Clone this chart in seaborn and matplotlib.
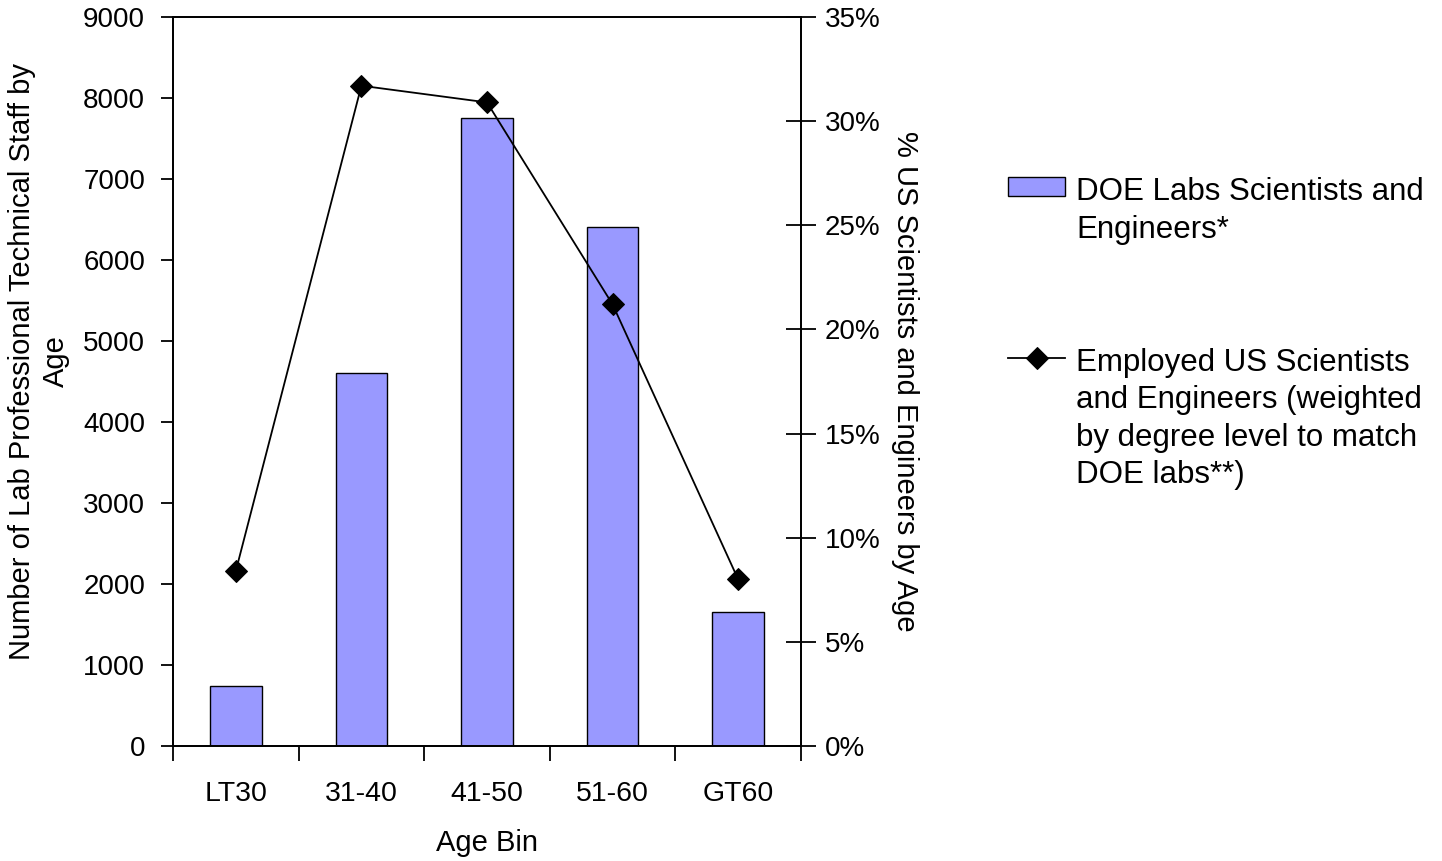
import numpy as np
import pandas as pd
import matplotlib
matplotlib.use("Agg")
import matplotlib.pyplot as plt
import seaborn as sns
from matplotlib.ticker import FixedLocator, PercentFormatter

# Data
age_bins = ["LT30", "31-40", "41-50", "51-60", "GT60"]
doe_staff = [740, 4610, 7750, 6410, 1650]
us_share = [0.084, 0.317, 0.309, 0.212, 0.080]

df = pd.DataFrame({"Age Bin": age_bins, "Staff": doe_staff, "Share": us_share})

plt.rcParams["font.family"] = ["Liberation Sans", "DejaVu Sans"]

fig = plt.figure(figsize=(14.42, 8.61), dpi=100)
ax = fig.add_axes([173 / 1442, 1 - 746 / 861, 628 / 1442, 729 / 861])

sns.barplot(data=df, x="Age Bin", y="Staff", color="#9999FF", saturation=1,
            edgecolor="black", linewidth=1.0, width=0.41, ax=ax,
            label="DOE Labs Scientists and\nEngineers*")
ax.set_xlim(-0.5, len(age_bins) - 0.5)
ax.set_ylim(0, 9000)
ax.set_yticks(range(0, 9001, 1000))

ax2 = ax.twinx()
sns.lineplot(x=np.arange(len(age_bins)), y=df["Share"], color="black",
             marker="D", markersize=11, markeredgecolor="black", linewidth=1.3,
             ax=ax2, sort=False,
             label="Employed US Scientists\nand Engineers (weighted\nby degree level to match\nDOE labs**)")
ax2.set_ylim(0, 0.35)
ax2.set_yticks(np.arange(0, 0.351, 0.05))
ax2.yaxis.set_major_formatter(PercentFormatter(1.0, decimals=0))
ax2.set_xlim(-0.5, len(age_bins) - 0.5)

for a in (ax, ax2):
    for s in a.spines.values():
        s.set_linewidth(1.3)
        s.set_color("black")
    if a.get_legend() is not None:
        a.get_legend().remove()

# ticks
ax.xaxis.set_minor_locator(FixedLocator(np.arange(-0.5, len(age_bins), 1.0)))
ax.tick_params(axis="x", which="major", length=0, pad=25, labelsize=20.5)
ax.tick_params(axis="x", which="minor", length=11, width=1.3, direction="out")
ax.tick_params(axis="y", length=9, width=1.3, direction="out", pad=11, labelsize=20)
ax2.tick_params(axis="y", length=22, width=1.3, direction="inout", pad=6, labelsize=20)

ax.set_xlabel("Age Bin", fontsize=21)
ax.xaxis.set_label_coords(0.5, (746 - 843) / 729)
ax.xaxis.label.set_va("center")

ax.set_ylabel("Number of Lab Professional Technical Staff by\nAge", fontsize=21,
              va="center", ha="center", multialignment="center", linespacing=1.3)
ax.yaxis.set_label_coords((39 - 173) / 628, (746 - 361) / 729)

ax2.set_ylabel("% US Scientists and Engineers by Age", fontsize=21,
               rotation=270, va="center", ha="center")
ax2.yaxis.set_label_coords((905 - 173) / 628, 0.5)

# legend
h1, l1 = ax.get_legend_handles_labels()
h2, l2 = ax2.get_legend_handles_labels()
leg = fig.legend(h1 + h2, l1 + l2, loc="upper left",
                 bbox_to_anchor=(1008 / 1442, 1 - 177 / 861),
                 frameon=False, fontsize=22.5, borderpad=0, borderaxespad=0,
                 handlelength=1.83, handleheight=0.55, handletextpad=0.35,
                 labelspacing=3.3)
for t in leg.get_texts():
    t.set_linespacing(1.33)
for col in leg._legend_handle_box.get_children():
    for item in col.get_children():
        item.align = "top"

fig.savefig("out.png", dpi=100)
